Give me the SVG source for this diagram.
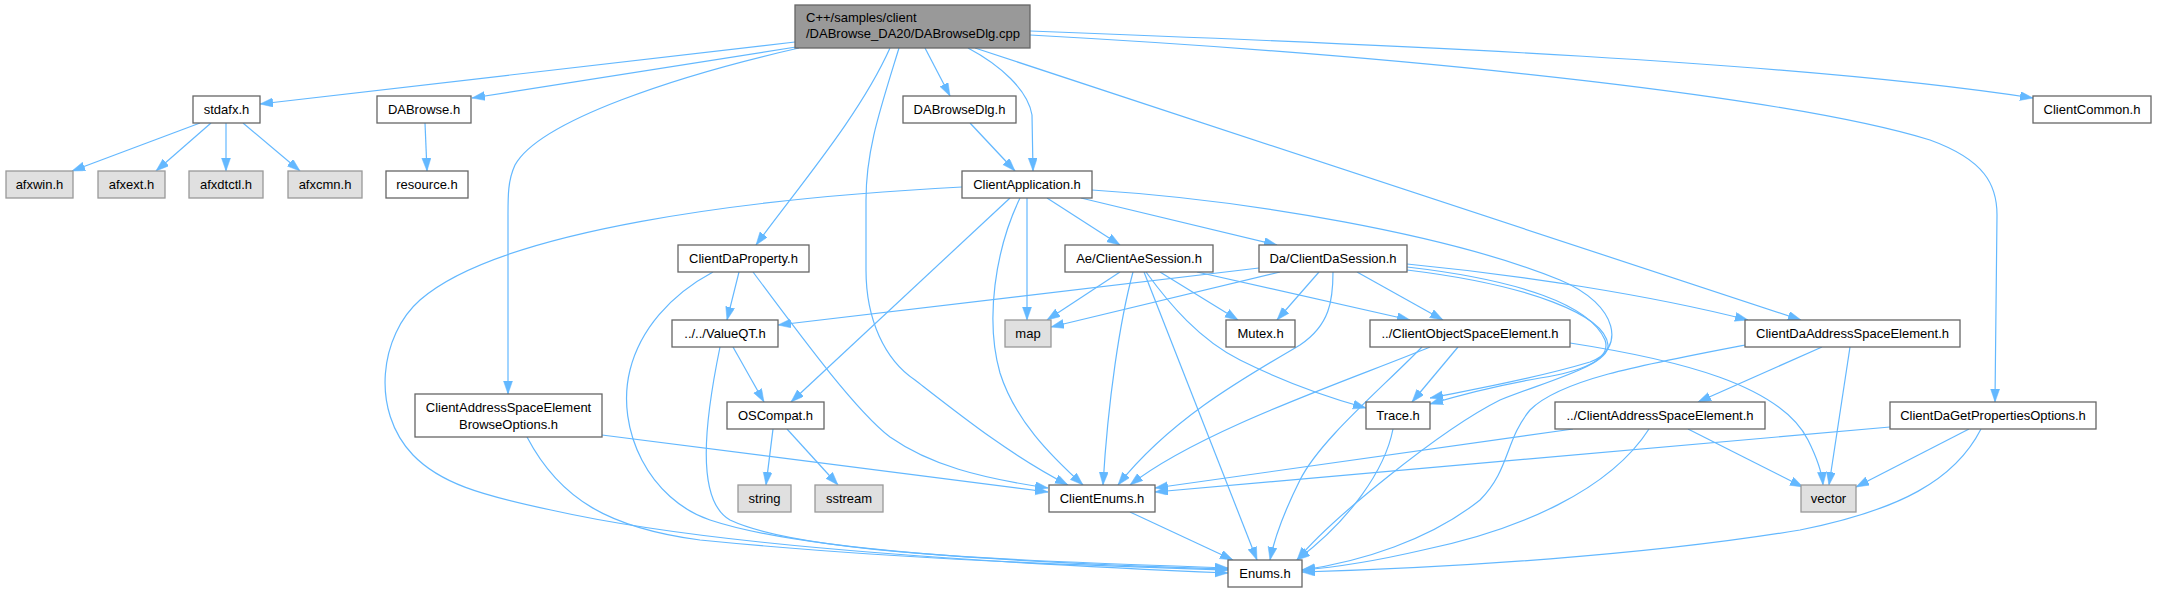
<svg xmlns="http://www.w3.org/2000/svg" width="2157" height="592" viewBox="0 0 2157 592">
<defs>
<marker id="ah" markerUnits="userSpaceOnUse" markerWidth="14" markerHeight="10" refX="13" refY="4.5" orient="auto">
<path d="M0,0 L13,4.5 L0,9 z" fill="#63b8ff" stroke="#63b8ff" stroke-width="0.5"/>
</marker>
</defs>
<style>
.n rect{fill:#ffffff;stroke:#666666;stroke-width:1.3}
.g rect{fill:#e0e0e0;stroke:#999999;stroke-width:1.3}
.m rect{fill:#999999;stroke:#666666;stroke-width:1.3}
text{font-family:"Liberation Sans",Arial,Helvetica,sans-serif;font-size:13px;fill:#000000}
.c{text-anchor:middle}
#edges path{fill:none;stroke:#63b8ff;stroke-width:1.2;marker-end:url(#ah)}
</style>
<rect x="0" y="0" width="2157" height="592" fill="#ffffff"/>
<g id="edges">
<path d="M795,42 L260,104"/>
<path d="M796,47 L472,98"/>
<path d="M799,48 C680,75 540,120 515,165 C508,180 508,195 508,215 L508,394"/>
<path d="M890,48 C860,115 800,185 756,245"/>
<path d="M899,48 C880,110 866,150 866,200 L866,270 C866,320 885,360 915,380 C960,415 1010,455 1068,485"/>
<path d="M925,48 L950,96"/>
<path d="M968,48 C1000,65 1028,90 1032,115 L1033,171"/>
<path d="M975,48 L1801,320"/>
<path d="M1030,31 C1400,45 1800,62 2033,98"/>
<path d="M1030,35 C1450,58 1800,100 1930,140 C1985,160 1997,185 1997,215 L1995,402"/>
<path d="M200,123 L72,171"/>
<path d="M211,123 L156,171"/>
<path d="M226,123 L226,171"/>
<path d="M243,123 L300,171"/>
<path d="M425,123 L427,171"/>
<path d="M970,123 L1015,171"/>
<path d="M962,187 C750,198 500,230 420,300 C380,335 370,410 413,455 C440,483 480,495 551,510 C640,530 800,555 1228,573"/>
<path d="M1010,198 L791,402"/>
<path d="M1027,198 L1027,320"/>
<path d="M1047,198 L1120,245"/>
<path d="M1081,198 L1277,245"/>
<path d="M1020,198 C995,250 985,320 1000,373 C1015,420 1050,455 1083,485"/>
<path d="M1092,190 C1250,200 1450,235 1560,280 C1620,305 1625,350 1590,362 C1530,380 1470,390 1430,398"/>
<path d="M739,272 L727,320"/>
<path d="M753,272 C800,335 855,410 890,437 C930,465 980,478 1048,488"/>
<path d="M713,272 C670,295 640,330 630,370 C615,430 650,500 710,520 C800,550 1000,562 1228,569"/>
<path d="M1120,272 L1047,320"/>
<path d="M1160,272 L1238,320"/>
<path d="M1197,272 L1410,320"/>
<path d="M1133,272 C1120,320 1108,400 1103,485"/>
<path d="M1144,272 L1257,560"/>
<path d="M1146,272 C1170,305 1200,340 1240,360 C1290,385 1330,398 1366,408"/>
<path d="M1259,268 L778,325"/>
<path d="M1280,272 L1051,327"/>
<path d="M1319,272 L1277,320"/>
<path d="M1357,272 L1443,320"/>
<path d="M1407,264 C1520,275 1650,295 1748,320"/>
<path d="M1407,267 C1520,280 1590,305 1605,340 C1612,360 1580,372 1540,378 C1500,385 1460,395 1430,404"/>
<path d="M1333,272 C1333,300 1330,325 1300,345 C1240,380 1170,420 1118,485"/>
<path d="M1407,270 C1530,285 1605,315 1608,345 C1610,365 1550,380 1500,400 C1440,430 1330,520 1297,560"/>
<path d="M733,347 L764,402"/>
<path d="M720,347 C705,420 695,500 730,520 C800,553 1000,560 1228,568"/>
<path d="M773,429 L766,485"/>
<path d="M787,429 L838,485"/>
<path d="M602,435 L1048,492"/>
<path d="M527,437 C560,500 610,528 700,540 C900,560 1100,566 1228,570"/>
<path d="M1458,347 L1412,402"/>
<path d="M1430,347 C1350,380 1200,430 1130,485"/>
<path d="M1422,347 C1380,390 1320,440 1300,480 C1285,510 1275,535 1270,560"/>
<path d="M1570,343 C1680,360 1780,385 1808,440 C1818,460 1822,472 1823,485"/>
<path d="M1393,429 C1385,470 1350,520 1297,560"/>
<path d="M1130,512 L1233,560"/>
<path d="M1573,429 L1155,488"/>
<path d="M1649,429 C1610,490 1520,530 1423,550 C1380,560 1340,567 1302,570"/>
<path d="M1688,429 L1803,487"/>
<path d="M1822,347 L1698,402"/>
<path d="M1850,347 L1829,485"/>
<path d="M1745,345 C1640,365 1560,380 1530,410 C1505,440 1510,470 1480,500 C1430,540 1360,562 1302,570"/>
<path d="M1890,427 L1155,492"/>
<path d="M1981,429 C1955,480 1900,510 1800,530 C1650,555 1450,568 1302,572"/>
<path d="M1969,429 L1856,487"/>
</g>
<g id="node-main" class="m"><rect x="795" y="5" width="235" height="43"/><text x="806" y="22">C++/samples/client</text><text x="806" y="38">/DABrowse_DA20/DABrowseDlg.cpp</text></g>
<g id="node-stdafx" class="n"><rect x="193" y="96" width="67" height="27"/><text class="c" x="226.5" y="114">stdafx.h</text></g>
<g id="node-dabrowse" class="n"><rect x="377" y="96" width="94" height="27"/><text class="c" x="424" y="114">DABrowse.h</text></g>
<g id="node-dabrowsedlg" class="n"><rect x="903" y="96" width="113" height="27"/><text class="c" x="959.5" y="114">DABrowseDlg.h</text></g>
<g id="node-clientcommon" class="n"><rect x="2033" y="96" width="118" height="27"/><text class="c" x="2092" y="114">ClientCommon.h</text></g>
<g id="node-afxwin" class="g"><rect x="6" y="171" width="67" height="27"/><text class="c" x="39.5" y="189">afxwin.h</text></g>
<g id="node-afxext" class="g"><rect x="98" y="171" width="67" height="27"/><text class="c" x="131.5" y="189">afxext.h</text></g>
<g id="node-afxdtctl" class="g"><rect x="189" y="171" width="74" height="27"/><text class="c" x="226" y="189">afxdtctl.h</text></g>
<g id="node-afxcmn" class="g"><rect x="288" y="171" width="74" height="27"/><text class="c" x="325" y="189">afxcmn.h</text></g>
<g id="node-resource" class="n"><rect x="386" y="171" width="82" height="27"/><text class="c" x="427" y="189">resource.h</text></g>
<g id="node-clientapplication" class="n"><rect x="962" y="171" width="130" height="27"/><text class="c" x="1027" y="189">ClientApplication.h</text></g>
<g id="node-clientdaproperty" class="n"><rect x="678" y="245" width="131" height="27"/><text class="c" x="743.5" y="263">ClientDaProperty.h</text></g>
<g id="node-aesession" class="n"><rect x="1065" y="245" width="148" height="27"/><text class="c" x="1139" y="263">Ae/ClientAeSession.h</text></g>
<g id="node-dasession" class="n"><rect x="1259" y="245" width="148" height="27"/><text class="c" x="1333" y="263">Da/ClientDaSession.h</text></g>
<g id="node-valueqt" class="n"><rect x="672" y="320" width="106" height="27"/><text class="c" x="725" y="338">../../ValueQT.h</text></g>
<g id="node-map" class="g"><rect x="1005" y="320" width="46" height="27"/><text class="c" x="1028" y="338">map</text></g>
<g id="node-mutex" class="n"><rect x="1226" y="320" width="69" height="27"/><text class="c" x="1260.5" y="338">Mutex.h</text></g>
<g id="node-objectspace" class="n"><rect x="1370" y="320" width="200" height="27"/><text class="c" x="1470" y="338">../ClientObjectSpaceElement.h</text></g>
<g id="node-daaddressspace" class="n"><rect x="1745" y="320" width="215" height="27"/><text class="c" x="1852.5" y="338">ClientDaAddressSpaceElement.h</text></g>
<g id="node-browseoptions" class="n"><rect x="415" y="394" width="187" height="43"/><text class="c" x="508.5" y="412">ClientAddressSpaceElement</text><text class="c" x="508.5" y="429">BrowseOptions.h</text></g>
<g id="node-oscompat" class="n"><rect x="727" y="402" width="97" height="27"/><text class="c" x="775.5" y="420">OSCompat.h</text></g>
<g id="node-trace" class="n"><rect x="1366" y="402" width="64" height="27"/><text class="c" x="1398" y="420">Trace.h</text></g>
<g id="node-addressspace" class="n"><rect x="1555" y="402" width="210" height="27"/><text class="c" x="1660" y="420">../ClientAddressSpaceElement.h</text></g>
<g id="node-getprops" class="n"><rect x="1890" y="402" width="206" height="27"/><text class="c" x="1993" y="420">ClientDaGetPropertiesOptions.h</text></g>
<g id="node-string" class="g"><rect x="738" y="485" width="53" height="27"/><text class="c" x="764.5" y="503">string</text></g>
<g id="node-sstream" class="g"><rect x="815" y="485" width="68" height="27"/><text class="c" x="849" y="503">sstream</text></g>
<g id="node-clientenums" class="n"><rect x="1049" y="485" width="106" height="27"/><text class="c" x="1102" y="503">ClientEnums.h</text></g>
<g id="node-vector" class="g"><rect x="1801" y="485" width="55" height="27"/><text class="c" x="1828.5" y="503">vector</text></g>
<g id="node-enums" class="n"><rect x="1228" y="560" width="74" height="27"/><text class="c" x="1265" y="578">Enums.h</text></g>
</svg>
